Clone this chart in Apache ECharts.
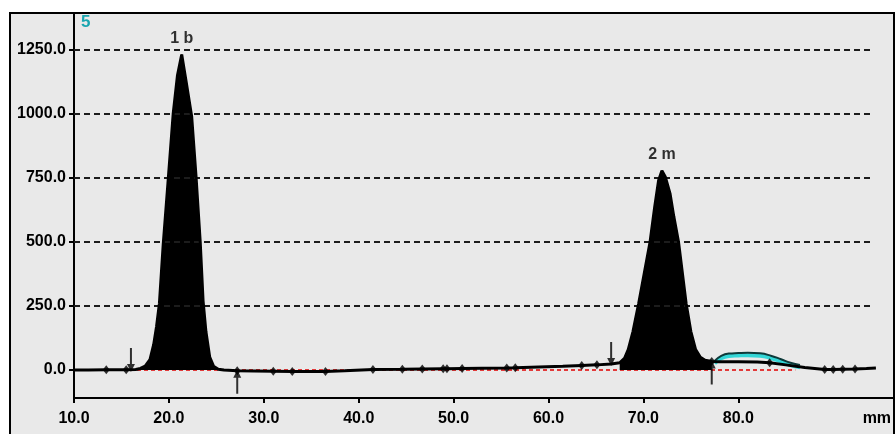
<!DOCTYPE html>
<html>
<head>
<meta charset="utf-8">
<script src="https://cdn.jsdelivr.net/npm/echarts@6/dist/echarts.min.js"></script>
<style>
  html, body { margin: 0; padding: 0; background: #fff; }
  #chart { width: 896px; height: 434px; }
</style>
</head>
<body>
<div id="chart"></div>
<script>
// chromatogram trace (x in mm, y in signal units)
const traceX = [10.0, 11.5, 13.4, 15.5, 16.5, 17.0, 17.5, 18.0, 18.4, 18.7, 19.0, 19.4, 19.9, 20.45, 20.9, 21.35,
  21.8, 22.4, 22.85, 23.3, 23.6, 23.9, 24.3, 24.7, 25.2, 25.8, 27.2, 29.0, 31.0, 33.0, 35.0, 36.5, 38.5,
  41.5, 44.6, 46.7, 48.9, 49.3, 50.9, 53.0, 55.6, 56.5, 59.0, 61.5, 63.5, 65.1, 66.6, 67.5, 68.0, 68.4,
  68.9, 69.5, 70.1, 70.7, 71.2, 71.6, 71.95, 72.3, 72.8, 73.2, 73.7, 74.1, 74.5, 75.0, 75.5, 76.0, 76.5,
  77.2, 78.0, 80.0, 82.0, 83.3, 85.0, 87.0, 89.1, 90.0, 91.0, 92.3, 93.5, 94.5];
const traceY = [0, 0, 1, 1, 2, 6, 15, 40, 100, 170, 260, 490, 730, 1000, 1150, 1232,
  1130, 990, 760, 500, 270, 150, 50, 15, 3, 0, -3, -4, -5, -6, -6, -6, -3,
  2, 3, 4, 5, 5, 6, 7, 8, 9, 12, 15, 18, 20, 23, 28, 45, 80,
  150, 260, 380, 500, 640, 740, 778, 755, 690, 600, 500, 380, 260, 150, 80, 50, 38,
  33, 32, 32, 31, 28, 20, 10, 2, 2, 3, 4, 6, 8];

// shoulder after peak 2
const bumpX = [77.5, 78.2, 79.0, 80.0, 81.0, 82.3, 83.5, 84.5, 85.5, 86.5];
const bumpY = [35, 55, 64, 66, 67, 65, 55, 42, 28, 20];

// integrated peak ranges
const peakRanges = [[16.9, 25.8], [67.5, 77.2]];

// data point markers on the trace
const markerX = [13.4, 15.5, 27.2, 31.0, 33.0, 36.5, 41.5, 44.6, 46.7, 48.9, 49.3, 50.9, 55.6, 56.5, 63.5, 65.1, 77.2, 83.3, 89.1, 90.0, 91.0, 92.3];
const markerY = [1, 1, -3, -5, -6, -6, 2, 3, 4, 5, 5, 6, 8, 9, 18, 20, 33, 28, 2, 2, 3, 4];

// peak start/end arrows
const arrowX = [16.0, 27.2, 66.6, 77.2];
const arrowY = [0, -3, 23, 33];
const arrowDir = ['down', 'up', 'down', 'up'];

// peak names
const peakX = [21.35, 71.95];
const peakY = [1232, 778];
const peakNames = ['1 b', '2 m'];

// axis ticks
const xTicks = [10, 20, 30, 40, 50, 60, 70, 80];
const xUnitPos = 94.6;
const yTicks = [0, 250, 500, 750, 1000, 1250];

const font = 'Liberation Sans, Arial, sans-serif';
const tracePts = traceX.map((x, i) => [x, traceY[i]]);

const downArrow = 'path://M3,0 L5,0 L5,16 L8,16 L4,24 L0,16 L3,16 Z';
const upArrow = 'path://M4,0 L8,8 L5,8 L5,24 L3,24 L3,8 L0,8 Z';

let series = [];

// grid lines + red zero line
series.push({
  type: 'line',
  data: [[10, 0], [86, 0]],
  symbol: 'none',
  lineStyle: { color: '#e23a3a', width: 2, type: [4, 3] },
  z: 1,
  silent: true,
  markLine: {
    symbol: 'none',
    silent: true,
    label: { show: false },
    lineStyle: { color: '#1c1c1c', width: 2, type: [6, 4] },
    data: yTicks.filter(v => v > 0).map(v => [{ coord: [10, v] }, { coord: [94.1, v] }])
  }
});

// filled peaks
peakRanges.forEach(r => {
  series.push({
    type: 'line',
    data: tracePts.filter(p => p[0] >= r[0] && p[0] <= r[1]),
    symbol: 'none',
    lineStyle: { color: '#000', width: 1 },
    areaStyle: { color: '#000', opacity: 1 },
    z: 3
  });
});

// shoulder lines
series.push({
  type: 'line',
  data: bumpX.map((x, i) => [x, bumpY[i] - 9]),
  symbol: 'none',
  smooth: true,
  lineStyle: { color: '#33d6d6', width: 4 },
  z: 3
});
series.push({
  type: 'line',
  data: bumpX.map((x, i) => [x, bumpY[i]]),
  symbol: 'none',
  smooth: true,
  lineStyle: { color: '#0d3a3a', width: 2 },
  z: 4
});

// trace
series.push({
  type: 'line',
  data: tracePts,
  symbol: 'none',
  lineStyle: { color: '#000', width: 3 },
  z: 5
});

// markers
series.push({
  type: 'scatter',
  data: markerX.map((x, i) => [x, markerY[i]]),
  symbol: 'diamond',
  symbolSize: [7, 9],
  itemStyle: { color: '#000' },
  z: 6
});

// arrows
series.push({
  type: 'scatter',
  data: arrowX.map((x, i) => ({
    value: [x, arrowY[i]],
    symbol: arrowDir[i] === 'down' ? downArrow : upArrow,
    symbolOffset: arrowDir[i] === 'down' ? [0, -10] : [0, 11]
  })),
  symbolSize: [8, 24],
  itemStyle: { color: '#000' },
  z: 7
});

// peak labels
series.push({
  type: 'scatter',
  data: peakX.map((x, i) => ({ value: [x, peakY[i]], name: peakNames[i] })),
  symbolSize: 1,
  itemStyle: { color: 'rgba(0,0,0,0)' },
  label: {
    show: true,
    position: 'top',
    distance: 8,
    formatter: p => p.name,
    color: '#000',
    fontWeight: 'bold',
    fontSize: 16,
    fontFamily: font
  },
  z: 8
});

const chart = echarts.init(document.getElementById('chart'), null, { renderer: 'canvas' });
chart.setOption({
  backgroundColor: '#e9e9e9',
  animation: false,
  graphic: [
    // white margin outside the frame
    { type: 'rect', shape: { x: 0, y: 0, width: 896, height: 13 }, style: { fill: '#fff' }, silent: true },
    { type: 'rect', shape: { x: 0, y: 0, width: 10, height: 434 }, style: { fill: '#fff' }, silent: true },
    { type: 'rect', shape: { x: 894, y: 0, width: 2, height: 434 }, style: { fill: '#fff' }, silent: true },
    // frame
    {
      type: 'rect',
      shape: { x: 10, y: 13, width: 884, height: 430 },
      style: { fill: 'none', stroke: '#000', lineWidth: 2 },
      silent: true
    },
    {
      type: 'text',
      left: 81,
      top: 14,
      style: { text: '5', fill: '#1aa6b0', font: 'bold 17px ' + font },
      z: 10
    }
  ],
  grid: { left: 74, right: 3, top: 14, bottom: 36 },
  xAxis: {
    type: 'value',
    min: 10,
    max: 96.3,
    axisLine: { onZero: false, lineStyle: { color: '#000', width: 2 } },
    axisTick: { show: true, length: 5, customValues: xTicks, lineStyle: { color: '#000', width: 2 } },
    axisLabel: {
      customValues: xTicks.concat([xUnitPos]),
      formatter: v => (v > 90 ? 'mm' : v.toFixed(1)),
      color: '#000',
      fontWeight: 'bold',
      fontSize: 16,
      fontFamily: font,
      margin: 13
    },
    splitLine: { show: false }
  },
  yAxis: {
    type: 'value',
    min: -109.4,
    max: 1390.6,
    axisLine: { show: true, onZero: false, lineStyle: { color: '#000', width: 2 } },
    axisTick: { show: true, length: 5, customValues: yTicks, lineStyle: { color: '#000', width: 2 } },
    axisLabel: {
      customValues: yTicks,
      formatter: v => v.toFixed(1),
      color: '#000',
      fontWeight: 'bold',
      fontSize: 16,
      fontFamily: font,
      margin: 8
    },
    splitLine: { show: false }
  },
  series: series
});
</script>
</body>
</html>
